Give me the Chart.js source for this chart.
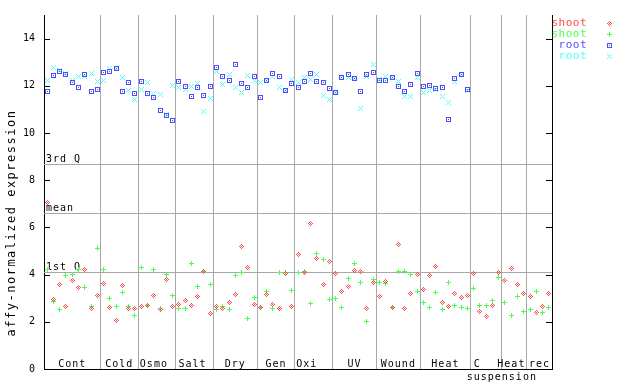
<!DOCTYPE html>
<html>
<head>
<meta charset="utf-8">
<script src="https://cdn.jsdelivr.net/npm/chart.js@4.4.0/dist/chart.umd.min.js"></script>
<style>
  html, body { margin: 0; padding: 0; background: #fff; }
  canvas { display: block; }
</style>
</head>
<body>
<canvas id="exprChart" width="640" height="384" style="width:640px;height:384px"></canvas>
<script>
// sample groups along x (one x slot per sample, 81 slots)
const categories = ["Cont", "Cold", "Osmo", "Salt", "Dry", "Gen", "Oxi", "UV", "Wound", "Heat", "C", "Heat", "rec"];
const groupBreaks = [8.5, 14.5, 20.5, 26.5, 33.5, 39.5, 45.5, 52.5, 59.5, 67.5, 72.5, 76.5];
const yTicks = [0, 2, 4, 6, 8, 10, 12, 14];
const quartileLabels = ["3rd Q", "mean", "1st Q"];
const quartileValues = [8.69, 6.62, 4.09];

const shootRed = [
  7.07, 2.95, 3.59, 2.66, 3.76, 3.46, 4.22, 2.57, 3.12,
  3.63, 2.62, 2.07, 3.54, 2.57, 2.57,
  2.66, 2.70, 3.12, 2.53, 3.80, 2.66,
  2.74, 2.91, 2.70, 3.08, 4.14, 2.36,
  2.66, 2.57, 2.83, 3.16, 5.19, 4.30, 2.74,
  2.62, 3.16, 2.74, 2.57, 4.05, 2.66,
  4.85, 4.09, 6.16, 4.68, 3.59, 4.56,
  4.05, 3.29, 3.50, 4.18, 4.14, 2.57, 3.67,
  3.08, 3.71, 2.62, 5.27, 2.57, 3.21, 4.01,
  3.38, 3.97, 4.35, 2.83, 2.66, 3.21, 3.04, 3.12,
  4.05, 2.45, 2.24, 2.70, 4.09,
  3.76, 4.26, 3.59, 3.21,
  3.08, 2.41, 2.66, 3.21
];
const shootGreen = [
  4.22, 2.87, 2.53, 3.97, 4.01, 4.22, 3.46, 2.66, 5.10,
  4.22, 3.00, 2.66, 3.25, 2.66, 2.28,
  4.30, 2.70, 4.22, 2.57, 4.01, 3.12,
  2.57, 2.57, 4.47, 3.50, 4.14, 3.59,
  2.53, 2.66, 2.53, 3.97, 4.09, 2.15, 3.04,
  2.62, 3.29, 2.57, 4.09, 4.09, 3.33,
  4.09, 4.14, 2.78, 4.89, 4.64, 2.95,
  3.00, 2.62, 3.84, 4.47, 3.67, 2.03, 3.80,
  3.67, 3.63, 2.62, 4.14, 4.14, 4.01, 3.29,
  2.83, 2.62, 3.25, 2.53, 3.67, 2.70, 2.62, 2.57,
  3.42, 2.70, 2.70, 2.91, 3.88,
  2.83, 2.28, 3.08, 2.45,
  2.53, 3.29, 2.41, 2.62
];
const rootBlue = [
  11.77, 12.45, 12.59, 12.46, 12.15, 11.94, 12.49, 11.77, 11.86,
  12.57, 12.62, 12.74, 11.77, 12.15, 11.69,
  12.19, 11.69, 11.52, 10.97, 10.76, 10.55,
  12.19, 11.98, 11.56, 11.94, 11.60, 11.98,
  12.78, 12.41, 12.24, 12.91, 12.11, 11.94, 12.41,
  11.52, 12.24, 12.53, 12.41, 11.81, 12.11,
  11.94, 12.19, 12.53, 12.19, 12.15, 11.90,
  11.73, 12.36, 12.49, 12.32, 11.77, 12.49, 12.57,
  12.24, 12.24, 12.36, 11.98, 11.77, 12.07, 12.53,
  11.98, 12.03, 11.90, 11.94, 10.59, 12.32, 12.49, 11.86,
  null, null, null, null, null,
  null, null, null, null,
  null, null, null, null
];
const rootCyan = [
  12.24, 12.78, 12.63, 12.53, 12.24, 12.41, 12.41, 12.53, 12.19,
  12.24, 12.74, 12.74, 12.36, 11.81, 11.43,
  11.86, 12.15, 11.69, 11.65, 10.80, 12.03,
  11.94, 11.86, 11.98, 12.11, 10.93, 11.48,
  12.62, 12.07, 12.49, 11.94, 11.73, 12.45, 12.24,
  12.15, 12.24, 12.41, 11.94, 11.81, 12.28,
  12.15, 12.36, 12.28, 12.49, 11.60, 11.43,
  11.73, 12.36, 12.36, 12.32, 11.05, 12.41, 12.91,
  12.28, 12.41, 12.36, 12.19, 11.56, 11.56, 12.36,
  11.73, 11.81, 11.86, 11.56, 11.31, 12.19, 12.49, 11.81,
  null, null, null, null, null,
  null, null, null, null,
  null, null, null, null
];

const MONO = "'DejaVu Sans Mono', 'Liberation Mono', monospace";
const GRAY = "#a8a8a8";
const RED = "#ff4d4d", GREEN = "#4dff4d", BLUE = "#4d4dff", CYAN = "#4dffff";

// little pixel sprites for the markers
function sprite(color, rows) {
  const c = document.createElement("canvas");
  c.width = rows[0].length;
  c.height = rows.length;
  const g = c.getContext("2d");
  g.fillStyle = color;
  rows.forEach((row, y) => [...row].forEach((ch, x) => {
    if (ch === "#") g.fillRect(x, y, 1, 1);
  }));
  return c;
}
const diamond = sprite(RED, ["..#..", ".#.#.", "#.#.#", ".#.#.", "..#.."]);
const plus = sprite(GREEN, ["..#..", "..#..", "#####", "..#..", "..#.."]);
const square = sprite(BLUE, ["#####", "#...#", "#.#.#", "#...#", "#####"]);
const cross = sprite(CYAN, ["#...#", ".#.#.", "..#..", ".#.#.", "#...#"]);

const toPoints = (arr) => arr.map((v, i) => (v == null ? null : { x: i, y: v })).filter(Boolean);

const series = [
  { label: "shoot", data: shootRed, color: RED, marker: diamond },
  { label: "shoot", data: shootGreen, color: GREEN, marker: plus },
  { label: "root", data: rootBlue, color: BLUE, marker: square },
  { label: "root", data: rootCyan, color: CYAN, marker: cross },
];

const decor = {
  id: "decor",
  beforeDatasetsDraw(chart) {
    const { ctx, chartArea: a, scales: { y } } = chart;

    // snap points to pixel centres so the sprites stay sharp
    chart.data.datasets.forEach((d, i) => {
      chart.getDatasetMeta(i).data.forEach((el) => {
        el.x = Math.floor(el.x) + 0.5;
        el.y = Math.floor(el.y) + 0.5;
      });
    });

    ctx.save();
    ctx.strokeStyle = GRAY;
    ctx.lineWidth = 1;
    ctx.font = "10px " + MONO;
    ctx.letterSpacing = "1px";
    ctx.textBaseline = "bottom";
    ctx.fillStyle = "#000";
    quartileValues.forEach((v, i) => {
      const py = Math.round(y.getPixelForValue(v)) + 0.5;
      ctx.beginPath();
      ctx.moveTo(a.left, py);
      ctx.lineTo(a.right, py);
      ctx.stroke();
      ctx.fillText(quartileLabels[i], a.left + 2, py);
    });
    ctx.restore();
  },
  afterDraw(chart) {
    const { ctx, chartArea: a, scales: { x, y } } = chart;
    ctx.save();

    // tick marks on both sides, pointing inwards
    ctx.strokeStyle = "#000";
    ctx.lineWidth = 1;
    yTicks.forEach((t) => {
      const py = Math.round(y.getPixelForValue(t)) + 0.5;
      ctx.beginPath();
      ctx.moveTo(a.left, py); ctx.lineTo(a.left + 6, py);
      ctx.moveTo(a.right, py); ctx.lineTo(a.right - 6, py);
      ctx.stroke();
    });

    // group labels along the bottom
    ctx.fillStyle = "#000";
    ctx.font = "10px " + MONO;
    ctx.letterSpacing = "1px";
    ctx.textAlign = "center";
    ctx.textBaseline = "alphabetic";
    const edges = [x.min, ...groupBreaks, x.max];
    const nudge = { 2: -3, 3: -2, 6: -7, 10: -9, 11: -3 };
    categories.forEach((c, i) => {
      const cx = (x.getPixelForValue(edges[i]) + x.getPixelForValue(edges[i + 1])) / 2 + (nudge[i] || 0);
      ctx.fillText(c, cx, a.bottom - 2);
    });
    ctx.fillText("suspension", x.getPixelForValue(groupBreaks[10]), a.bottom + 11);

    // y axis title
    ctx.save();
    ctx.translate(12, 223);
    ctx.rotate(-Math.PI / 2);
    ctx.font = "12px " + MONO;
    ctx.letterSpacing = "1.5px";
    ctx.textBaseline = "middle";
    ctx.fillText("affy-normalized expression", 0, 0);
    ctx.restore();

    // legend at the right
    ctx.textAlign = "right";
    ctx.textBaseline = "middle";
    ctx.font = "11px " + MONO;
    ctx.letterSpacing = "0.5px";
    series.forEach((s, i) => {
      const ly = 23 + i * 11;
      ctx.fillStyle = s.color;
      ctx.fillText(s.label, 587, ly);
      ctx.drawImage(s.marker, 607, ly - 2);
    });
    ctx.restore();
  },
};

new Chart(document.getElementById("exprChart"), {
  type: "scatter",
  data: {
    datasets: series.map((s) => ({
      label: s.label,
      data: toPoints(s.data),
      pointStyle: s.marker,
      borderColor: s.color,
      backgroundColor: s.color,
    })),
  },
  options: {
    responsive: false,
    animation: false,
    layout: { padding: { left: 0, top: 13, right: 0, bottom: 15 } },
    plugins: { legend: { display: false }, tooltip: { enabled: false } },
    scales: {
      x: {
        type: "linear",
        min: -0.5,
        max: 80.5,
        afterBuildTicks: (s) => { s.ticks = groupBreaks.map((v) => ({ value: v })); },
        afterFit: (s) => { s.height = 0; },
        ticks: { display: false },
        grid: { color: GRAY, lineWidth: 1, drawTicks: false },
        border: { display: true, color: "#000", width: 1 },
      },
      y: {
        position: "left",
        min: 0,
        max: 15,
        afterBuildTicks: (s) => { s.ticks = yTicks.map((v) => ({ value: v })); },
        afterFit: (s) => { s.width = 44; },
        ticks: { color: "#000", font: { family: MONO, size: 10 }, padding: 9 },
        grid: { display: false, drawTicks: false },
        border: { display: true, color: "#000", width: 1 },
      },
      y2: {
        position: "right",
        min: 0,
        max: 15,
        afterFit: (s) => { s.width = 88; },
        ticks: { display: false },
        grid: { display: false, drawTicks: false },
        border: { display: true, color: "#000", width: 1 },
      },
    },
  },
  plugins: [decor],
});
</script>
</body>
</html>
